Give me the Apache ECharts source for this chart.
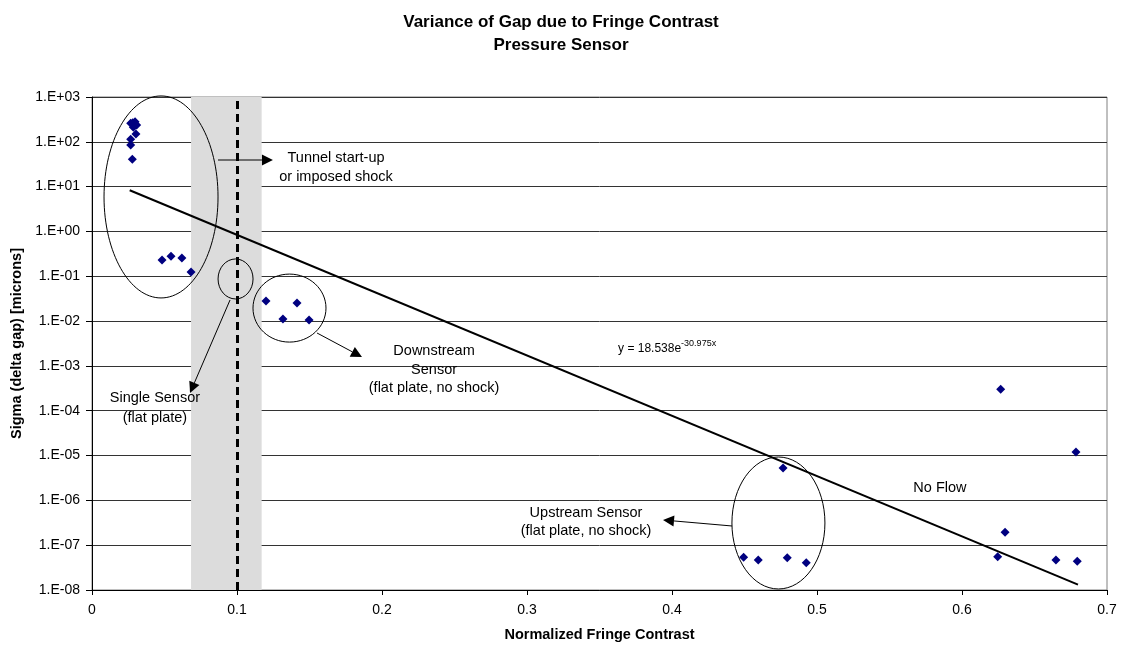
<!DOCTYPE html>
<html>
<head>
<meta charset="utf-8">
<title>Variance of Gap due to Fringe Contrast</title>
<script src="https://cdn.jsdelivr.net/npm/echarts@6/dist/echarts.min.js"></script>
<style>
    html, body { margin: 0; padding: 0; background: #fff; }
    #chart { width: 1122px; height: 650px; }
</style>
</head>
<body>
<div id="chart"></div>
<script>
// measured points: normalized fringe contrast vs sigma (delta gap)
var contrastValues = [
    0.0267, 0.0281, 0.0297, 0.0308, 0.0285, 0.0303, 0.0267, 0.0267, 0.0278,
    0.0483, 0.0545, 0.0620, 0.0683,
    0.1200, 0.1414, 0.1317, 0.1497,
    0.4494, 0.4595, 0.4766, 0.4795, 0.4926,
    0.6246, 0.6267, 0.6297, 0.6648, 0.6786, 0.6795
];
var sigmaValues = [
    259, 265, 281, 237, 211, 149, 114, 85, 41,
    0.23, 0.28, 0.256, 0.125,
    0.0282, 0.0254, 0.0111, 0.0106,
    5.37e-8, 4.68e-8, 5.28e-6, 5.26e-8, 4.07e-8,
    5.5e-8, 3.0e-4, 1.94e-7, 4.68e-8, 1.2e-5, 4.37e-8
];

// exponential trendline ends, as drawn (y = 18.538e^-30.975x)
var trendX = [0.026, 0.680];
var trendY = [8.3, 1.32e-8];

// shaded band and dashed marker on the contrast axis
var bandRange = [0.0683, 0.117];
var markerX = 0.103;

var xTicks = ['0', '0.1', '0.2', '0.3', '0.4', '0.5', '0.6', '0.7'];

var FONT = '"Liberation Sans", Arial, sans-serif';

function yLabel(v) {
    var e = Math.round(Math.log10(v));
    var a = Math.abs(e);
    return '1.E' + (e < 0 ? '-' : '+') + (a < 10 ? '0' : '') + a;
}

var chart = echarts.init(document.getElementById('chart'));

var points = contrastValues.map(function(x, i) { return [x, sigmaValues[i]]; });
var trend = trendX.map(function(x, i) { return [x, trendY[i]]; });

chart.setOption({
    animation: false,
    backgroundColor: '#fff',
    title: {
        text: 'Variance of Gap due to Fringe Contrast\nPressure Sensor',
        left: 'center',
        top: 6,
        textStyle: { fontFamily: FONT, fontSize: 17, fontWeight: 'bold', color: '#000', lineHeight: 23 }
    },
    grid: {
        left: 92, top: 97, width: 1015, height: 493,
        show: true, borderColor: '#808080', borderWidth: 1
    },
    xAxis: {
        type: 'value',
        min: 0, max: 0.7, interval: 0.1,
        name: 'Normalized Fringe Contrast',
        nameLocation: 'middle',
        nameGap: 37,
        nameTextStyle: { fontFamily: FONT, fontSize: 14.5, fontWeight: 'bold', color: '#000' },
        axisLine: { lineStyle: { color: '#000', width: 1 } },
        axisTick: { show: true, length: 5, lineStyle: { color: '#000' } },
        axisLabel: {
            margin: 13, fontFamily: FONT, fontSize: 14, color: '#000',
            formatter: function(v) { return xTicks[Math.round(v * 10)]; }
        },
        splitLine: { show: false }
    },
    yAxis: {
        type: 'log',
        logBase: 10,
        min: 1e-8, max: 1e3,
        interval: 1,
        splitNumber: 11,
        name: 'Sigma (delta gap) [microns]',
        nameLocation: 'middle',
        nameGap: 27,
        nameTextStyle: { fontFamily: FONT, fontSize: 14.5, fontWeight: 'bold', color: '#000' },
        axisLine: { show: true, lineStyle: { color: '#000', width: 1 } },
        axisTick: { show: true, length: 6, lineStyle: { color: '#000' } },
        axisLabel: { margin: 12, fontFamily: FONT, fontSize: 14, color: '#000', formatter: yLabel },
        splitLine: { show: true, lineStyle: { color: '#333', width: 1 } }
    },
    series: [
        {
            name: 'points',
            type: 'scatter',
            data: points,
            symbol: 'diamond',
            symbolSize: 9,
            itemStyle: { color: '#000080', opacity: 1 },
            z: 2
        },
        {
            name: 'trend',
            type: 'line',
            data: trend,
            symbol: 'none',
            lineStyle: { color: '#000', width: 2 },
            z: 2
        },
        {
            name: 'band',
            type: 'scatter',
            data: [],
            z: 3,
            markArea: {
                silent: true,
                itemStyle: { color: '#dcdcdc' },
                data: [[{ xAxis: bandRange[0] }, { xAxis: bandRange[1] }]]
            }
        },
        {
            name: 'marker',
            type: 'scatter',
            data: [],
            z: 4,
            markLine: {
                silent: true,
                symbol: ['none', 'none'],
                label: { show: false },
                lineStyle: { color: '#000', width: 3, type: [8, 5] },
                data: [{ xAxis: markerX }]
            }
        }
    ]
});

// ---- annotations (anchored in data space: [contrast, log10 sigma]) ----
function px(p) {
    return chart.convertToPixel({ gridIndex: 0 }, [p[0], Math.pow(10, p[1])]);
}

var ellipses = [
    { c: [0.0476, 0.77], rx: 57, ry: 101 },
    { c: [0.0990, -1.06], rx: 17.5, ry: 20 },
    { c: [0.1362, -1.71], rx: 36.5, ry: 34 },
    { c: [0.4734, -6.505], rx: 46.5, ry: 66 }
];

var arrows = [
    { from: [0.0869, 1.594], to: [0.1248, 1.594] },
    { from: [0.0952, -1.529], to: [0.0676, -3.604] },
    { from: [0.1552, -2.266], to: [0.1862, -2.801] },
    { from: [0.4414, -6.572], to: [0.3938, -6.438] }
];

var labels = [
    { at: [0.1683, 1.438], text: 'Tunnel start-up\nor imposed shock', lh: 19 },
    { at: [0.2359, -3.091], text: 'Downstream\nSensor\n(flat plate, no shock)', lh: 18.5 },
    { at: [0.0434, -3.939], text: 'Single Sensor\n(flat plate)', lh: 20 },
    { at: [0.3407, -6.483], text: 'Upstream Sensor\n(flat plate, no shock)', lh: 18 },
    { at: [0.5848, -5.724], text: 'No Flow', lh: 16 }
];

var graphics = [];

ellipses.forEach(function(e) {
    var p = px(e.c);
    graphics.push({
        type: 'ellipse',
        shape: { cx: p[0], cy: p[1], rx: e.rx, ry: e.ry },
        style: { fill: null, stroke: '#000', lineWidth: 1 },
        z: 10, silent: true
    });
});

arrows.forEach(function(a) {
    var s = px(a.from);
    var t = px(a.to);
    var dx = t[0] - s[0], dy = t[1] - s[1];
    var len = Math.sqrt(dx * dx + dy * dy);
    var ux = dx / len, uy = dy / len;
    var headLen = 11, headHalf = 5.5;
    var bx = t[0] - ux * headLen, by = t[1] - uy * headLen;
    graphics.push({
        type: 'line',
        shape: { x1: s[0], y1: s[1], x2: bx, y2: by },
        style: { stroke: '#000', lineWidth: 1 },
        z: 10, silent: true
    });
    graphics.push({
        type: 'polygon',
        shape: { points: [[t[0], t[1]], [bx - uy * headHalf, by + ux * headHalf], [bx + uy * headHalf, by - ux * headHalf]] },
        style: { fill: '#000' },
        z: 10, silent: true
    });
});

labels.forEach(function(l) {
    var p = px(l.at);
    graphics.push({
        type: 'text',
        x: p[0], y: p[1],
        style: {
            text: l.text, fontFamily: FONT, fontSize: 14.5, fill: '#000',
            align: 'center', verticalAlign: 'middle', lineHeight: l.lh
        },
        z: 10, silent: true
    });
});

// trendline equation with superscript exponent
var eq = px([0.3628, -2.623]);
graphics.push({
    type: 'text',
    x: eq[0], y: eq[1],
    style: {
        text: '{a|y = 18.538e}{b|-30.975x}',
        align: 'left', verticalAlign: 'middle',
        rich: {
            a: { fontFamily: FONT, fontSize: 12, fill: '#000' },
            b: { fontFamily: FONT, fontSize: 9, fill: '#000', padding: [0, 0, 10, 0] }
        }
    },
    z: 10, silent: true
});

chart.setOption({ graphic: graphics });
</script>
</body>
</html>
